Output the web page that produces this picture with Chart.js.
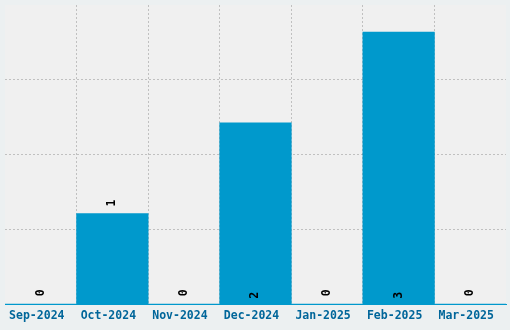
<!DOCTYPE html>
<html>
<head>
<meta charset="utf-8">
<script src="https://cdn.jsdelivr.net/npm/chart.js@4/dist/chart.umd.min.js"></script>
<style>
  html, body { margin: 0; padding: 0; background: #ecf0f1; }
  #wrap { width: 510px; height: 330px; }
</style>
</head>
<body>
<div id="wrap"><canvas id="monthChart" width="510" height="330"></canvas></div>
<script>
const months = ['Sep-2024', 'Oct-2024', 'Nov-2024', 'Dec-2024', 'Jan-2025', 'Feb-2025', 'Mar-2025'];
const counts = [0, 1, 0, 2, 0, 3, 0];

const monoFont = "'DejaVu Sans Mono', monospace";
const gridGray = 'rgba(0,0,0,0.2)';
const clear = 'rgba(0,0,0,0)';

// background of the plot area only
const plotBg = {
  id: 'plotBg',
  beforeDraw(chart) {
    const { ctx, chartArea: a } = chart;
    ctx.save();
    ctx.fillStyle = '#f0f0f0';
    ctx.fillRect(a.left, a.top, a.right - a.left, a.bottom - a.top);
    ctx.restore();
  },
};

// rotated value labels: above short bars, inside at the base of tall ones
const valueLabels = {
  id: 'valueLabels',
  afterDraw(chart) {
    const { ctx } = chart;
    const meta = chart.getDatasetMeta(0);
    ctx.save();
    ctx.font = 'bold 11.5px ' + monoFont;
    ctx.fillStyle = '#000';
    ctx.textAlign = 'left';
    ctx.textBaseline = 'middle';
    meta.data.forEach((bar, i) => {
      const h = bar.base - bar.y;
      let start;
      if (counts[i] === 0) start = bar.base - 8;
      else if (h < 120) start = bar.y - 7;
      else start = bar.base - 5;
      ctx.save();
      ctx.translate(bar.x, start);
      ctx.rotate(-Math.PI / 2);
      ctx.fillText(String(counts[i]), 0, 0);
      ctx.restore();
    });
    ctx.restore();
  },
};

new Chart(document.getElementById('monthChart').getContext('2d'), {
  type: 'bar',
  data: {
    labels: months,
    datasets: [
      {
        data: counts,
        backgroundColor: '#0099cc',
        borderWidth: 0,
        barPercentage: 1,
        categoryPercentage: 1,
      },
    ],
  },
  options: {
    responsive: false,
    animation: false,
    layout: { padding: { left: 5, top: 5, right: 4, bottom: 2 } },
    plugins: {
      legend: { display: false },
      tooltip: { enabled: false },
    },
    scales: {
      x: {
        z: 1,
        grid: {
          offset: true,
          drawTicks: false,
          color: (c) => (c.type !== 'tick' || c.index === 0 ? clear : gridGray),
        },
        border: { display: true, color: '#0099cc', width: 1, dash: [2, 2] },
        ticks: {
          color: '#00669a',
          padding: 5,
          labelOffset: -4,
          maxRotation: 0,
          font: { family: monoFont, size: 11.5, weight: 'bold' },
        },
      },
      y: {
        z: 1,
        min: 0,
        max: 3.3,
        ticks: { display: false, stepSize: 0.825 },
        grid: {
          drawTicks: false,
          color: (c) => (c.tick && (c.tick.value > 3.2 || c.tick.value === 0) ? clear : gridGray),
        },
        border: { display: false, dash: [2, 2] },
      },
    },
  },
  plugins: [plotBg, valueLabels],
});
</script>
</body>
</html>
